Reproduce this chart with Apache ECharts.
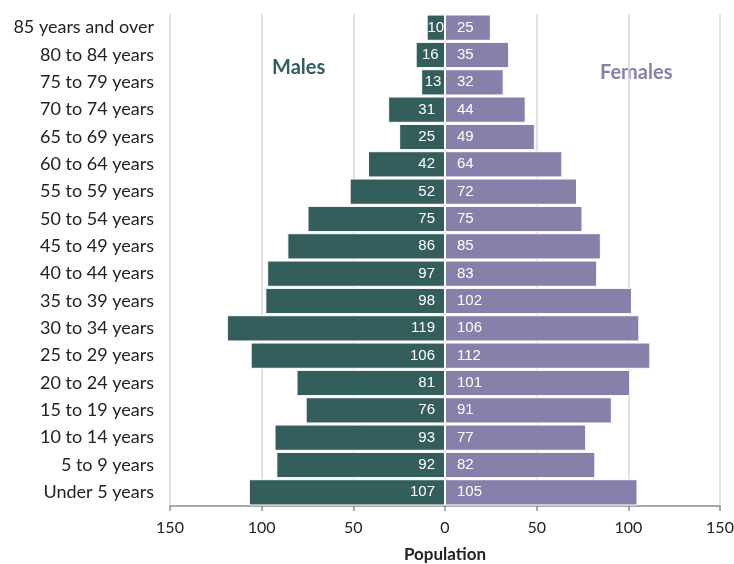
<!DOCTYPE html>
<html><head><meta charset="utf-8">
<script src="https://cdn.jsdelivr.net/npm/echarts@6/dist/echarts.min.js"></script>
<style>html,body{margin:0;padding:0;background:#fff}#c{width:734px;height:564px}</style>
</head><body><div id="c"></div>
<script>
var categories = ["85 years and over","80 to 84 years","75 to 79 years","70 to 74 years","65 to 69 years","60 to 64 years","55 to 59 years","50 to 54 years","45 to 49 years","40 to 44 years","35 to 39 years","30 to 34 years","25 to 29 years","20 to 24 years","15 to 19 years","10 to 14 years","5 to 9 years","Under 5 years"];
var males = [10,16,13,31,25,42,52,75,86,97,98,119,106,81,76,93,92,107];
var females = [25,35,32,44,49,64,72,75,85,83,102,106,112,101,91,77,82,105];

var chart = echarts.init(document.getElementById('c'));
chart.setOption({
  animation:false,
  grid:{left:170,right:14,top:14,bottom:58,containLabel:false,outerBoundsMode:'none'},
  xAxis:{type:'value',min:-150,max:150,interval:50,
    name:'Population',nameLocation:'middle',nameGap:40,
    nameTextStyle:{fontFamily:'Lato',fontWeight:'bold',fontSize:17,color:'#222'},
    axisLine:{show:true,lineStyle:{color:'#8c8c8c',width:1.5}},
    axisTick:{show:true,length:5,lineStyle:{color:'#8c8c8c',width:1.5}},
    axisLabel:{fontFamily:'Lato',fontSize:16,color:'#222',margin:14,formatter:function(v){return Math.abs(v);}},
    splitLine:{show:true,lineStyle:{color:'#d9d9d9',width:1.5}}
  },
  yAxis:{type:'category',data:categories,inverse:true,
    axisLine:{show:false},axisTick:{show:false},
    axisLabel:{fontFamily:'Lato',fontSize:18,color:'#222',margin:16}
  },
  series:[
    {name:'Males',type:'bar',stack:'pop',barCategoryGap:'4%',
     data:males.map(function(v){
       return v < 20 ? {value:-v,label:{position:'inside'}} : -v;
     }),
     itemStyle:{color:'#335e5c',borderColor:'#ffffff',borderWidth:1},
     label:{show:true,position:'insideRight',distance:10,color:'#fff',fontFamily:'Liberation Sans',fontSize:15,
       formatter:function(p){return Math.abs(p.value);}}},
    {name:'Females',type:'bar',stack:'pop',barCategoryGap:'4%',
     data:females,
     itemStyle:{color:'#8680ab',borderColor:'#ffffff',borderWidth:1},
     label:{show:true,position:'insideLeft',distance:12,color:'#fff',fontFamily:'Liberation Sans',fontSize:15,
       formatter:function(p){return p.value;}}}
  ],
  graphic:[
    {type:'text',left:246,top:50,style:{text:'Males',fontFamily:'Lato',fontWeight:'bold',fontSize:20,fill:'#335e5c',
      backgroundColor:'#fff',padding:[8,28,8,26]}},
    {type:'text',left:578,top:55,style:{text:'Females',fontFamily:'Lato',fontWeight:'bold',fontSize:20,fill:'#8680ab',
      backgroundColor:'#fff',padding:[8,20,8,22]}}
  ]
});
</script></body></html>
